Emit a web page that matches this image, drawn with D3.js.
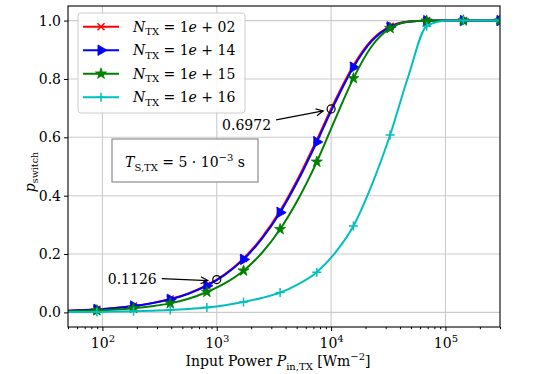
<!DOCTYPE html>
<html>
<head>
<meta charset="utf-8">
<script src="https://cdn.jsdelivr.net/npm/d3@7"></script>
<style>
  body { margin: 0; background: #fff; }
  svg { display: block; font-family: "DejaVu Serif", serif; }
</style>
</head>
<body>
<svg width="556" height="374"></svg>
<script>
// input power samples (W/m^2), markers on every other sample
var power = [42.8, 61.8, 89.5, 129.4, 187, 270, 392, 566, 819, 1183, 1714, 2477, 3581, 5176,
             7499, 10839, 15668, 22650, 32810, 47430, 68550, 99080, 143550, 207500, 300000];

var pN1e02 = [0.0051, 0.0074, 0.0106, 0.0153, 0.0221, 0.0318, 0.0458, 0.0654, 0.0932, 0.1318, 0.1852, 0.2562, 0.3482,
              0.4613, 0.5918, 0.7262, 0.8462, 0.9333, 0.9802, 0.9965, 0.9997, 1.0, 1.0, 1.0, 1.0];
var pN1e14 = [0.0050, 0.0072, 0.0104, 0.0150, 0.0216, 0.0311, 0.0448, 0.0641, 0.0914, 0.1293, 0.1817, 0.2516, 0.3423,
              0.4543, 0.5841, 0.7187, 0.8401, 0.9294, 0.9785, 0.9961, 0.9997, 1.0, 1.0, 1.0, 1.0];
var pN1e15 = [0.0031, 0.0046, 0.0068, 0.0099, 0.0145, 0.0212, 0.0310, 0.0467, 0.0700, 0.1004, 0.1430, 0.2035, 0.2850,
              0.3895, 0.5160, 0.6617, 0.8020, 0.9120, 0.9740, 0.9960, 0.9995, 1.0, 1.0, 1.0, 1.0];
var pN1e16 = [0.0009, 0.0013, 0.0018, 0.0027, 0.0039, 0.0056, 0.0081, 0.0118, 0.0170, 0.0248, 0.0360, 0.0496, 0.0680,
              0.0972, 0.1380, 0.2041, 0.2960, 0.4360, 0.6080, 0.8100, 0.9810, 0.9995, 1.0, 1.0, 1.0];

var seriesExp = ["02", "14", "15", "16"];
var xMajorTicks = [1e2, 1e3, 1e4, 1e5];
var xTickExp = ["2", "3", "4", "5"];
var yTicks = [0.0, 0.2, 0.4, 0.6, 0.8, 1.0];

// annotated points
var notePower = [1e3, 1e4];
var noteValue = [0.1126, 0.6972];

var series = [
    {values: pN1e02, color: "#ff0000", marker: "x"},
    {values: pN1e14, color: "#0000ff", marker: "tri"},
    {values: pN1e15, color: "#008000", marker: "star"},
    {values: pN1e16, color: "#00bfbf", marker: "plus"}
];

var svg = d3.select("svg"),
    margin = {top: 6, right: 56, bottom: 47, left: 68},
    width = 556 - margin.left - margin.right,
    height = 374 - margin.top - margin.bottom;

var x = d3.scaleLog().domain([50, 3e5]).range([margin.left, margin.left + width]);
var y = d3.scaleLinear().domain([-0.05, 1.05]).range([margin.top + height, margin.top]);

svg.append("defs").append("clipPath").attr("id", "clip")
    .append("rect")
    .attr("x", margin.left).attr("y", margin.top)
    .attr("width", width).attr("height", height);

// helper for mixed italic / sub / superscript text
function rich(sel, parts) {
    parts.forEach(function(p) {
        var t = sel.append("tspan").text(p.t);
        if (p.i) t.attr("font-style", "italic");
        if (p.sub) t.attr("font-size", p.fs || 10).attr("dy", p.sub);
        if (p.back) t.attr("dy", p.back);
    });
    return sel;
}

// grid
var grid = svg.append("g").attr("stroke", "#cbcbcb").attr("stroke-width", 1.1);
grid.selectAll(".gx").data(xMajorTicks).enter().append("line")
    .attr("x1", function(d) { return x(d); }).attr("x2", function(d) { return x(d); })
    .attr("y1", margin.top).attr("y2", margin.top + height);
grid.selectAll(".gy").data(yTicks).enter().append("line")
    .attr("y1", function(d) { return y(d); }).attr("y2", function(d) { return y(d); })
    .attr("x1", margin.left).attr("x2", margin.left + width);

// axes
var minor = x.ticks().filter(function(d) { return xMajorTicks.indexOf(d) < 0; });
svg.append("g")
    .attr("transform", "translate(0," + (margin.top + height) + ")")
    .call(d3.axisBottom(x).tickValues(minor).tickSize(2.2).tickFormat(""))
    .call(function(g) { g.select(".domain").remove(); });

var xAxis = svg.append("g")
    .attr("transform", "translate(0," + (margin.top + height) + ")")
    .call(d3.axisBottom(x).tickValues(xMajorTicks).tickSize(4).tickFormat(""));
xAxis.select(".domain").remove();
xAxis.selectAll(".tick").each(function(d, i) {
    var t = d3.select(this).append("text")
        .attr("y", 21).attr("fill", "#000").attr("font-size", 14)
        .attr("text-anchor", "middle").attr("font-family", "DejaVu Serif");
    rich(t, [{t: "10"}, {t: xTickExp[i], sub: -6, fs: 10}]);
});

var yAxis = svg.append("g")
    .attr("transform", "translate(" + margin.left + ",0)")
    .call(d3.axisLeft(y).tickValues(yTicks).tickSize(4).tickPadding(3).tickFormat(d3.format(".1f")));
yAxis.select(".domain").remove();
yAxis.selectAll("text").attr("font-size", 14).attr("font-family", "DejaVu Serif");
svg.selectAll(".tick line").attr("stroke", "#000").attr("stroke-width", 1);

// markers
function markerPath(type) {
    if (type === "x") return "M-3.5,-3.5L3.5,3.5M-3.5,3.5L3.5,-3.5";
    if (type === "plus") return "M-4.5,0L4.5,0M0,-4.5L0,4.5";
    if (type === "tri") return d3.symbol().type(d3.symbolTriangle).size(48)();
    return d3.symbol().type(d3.symbolStar).size(38)();
}
function drawMarker(g, type, color) {
    var p = g.append("path").attr("d", markerPath(type));
    if (type === "x" || type === "plus") {
        p.attr("fill", "none").attr("stroke", color).attr("stroke-width", 1.5);
    } else {
        p.attr("fill", color).attr("stroke", color).attr("stroke-width", 0.8);
    }
    if (type === "tri") p.attr("transform", "rotate(90)");
    return p;
}

var line = d3.line()
    .x(function(d, i) { return x(power[i]); })
    .y(function(d) { return y(d); })
    .curve(d3.curveMonotoneX);

var plot = svg.append("g").attr("clip-path", "url(#clip)");
series.forEach(function(s) {
    plot.append("path")
        .attr("d", line(s.values))
        .attr("fill", "none")
        .attr("stroke", s.color)
        .attr("stroke-width", 2);
    s.values.forEach(function(v, i) {
        if (i % 2 !== 0) return;
        var g = plot.append("g").attr("transform", "translate(" + x(power[i]) + "," + y(v) + ")");
        drawMarker(g, s.marker, s.color);
    });
});

// frame
svg.append("rect")
    .attr("x", margin.left).attr("y", margin.top)
    .attr("width", width).attr("height", height)
    .attr("fill", "none").attr("stroke", "#000").attr("stroke-width", 1.1);

// annotations
svg.append("defs").append("marker")
    .attr("id", "arrow").attr("viewBox", "-8 -5 10 10")
    .attr("markerWidth", 10).attr("markerHeight", 10)
    .attr("orient", "auto").attr("markerUnits", "userSpaceOnUse")
    .append("path").attr("d", "M-7,-3.5L0,0L-7,3.5")
    .attr("fill", "none").attr("stroke", "#000").attr("stroke-width", 1.2);

var noteOffsets = [
    {tx: -60, ty: 4, ax: -55, ay: -1, bx: -9, by: 1},
    {tx: -60, ty: 21, ax: -55, ay: 11, bx: -8, by: 2}
];
notePower.forEach(function(pw, i) {
    var px = x(pw), py = y(noteValue[i]), o = noteOffsets[i];
    svg.append("circle").attr("cx", px).attr("cy", py).attr("r", 4)
        .attr("fill", "none").attr("stroke", "#000").attr("stroke-width", 1.2);
    svg.append("line")
        .attr("x1", px + o.ax).attr("y1", py + o.ay)
        .attr("x2", px + o.bx).attr("y2", py + o.by)
        .attr("stroke", "#000").attr("stroke-width", 1.2)
        .attr("marker-end", "url(#arrow)");
    svg.append("text").attr("x", px + o.tx).attr("y", py + o.ty)
        .attr("text-anchor", "end").attr("font-size", 14)
        .text(d3.format(".4f")(noteValue[i]));
});

// parameter box
svg.append("rect").attr("x", 112).attr("y", 139).attr("width", 146).attr("height", 43)
    .attr("fill", "#fff").attr("stroke", "#8c8c8c").attr("stroke-width", 1.2);
rich(svg.append("text").attr("x", 185).attr("y", 167).attr("text-anchor", "middle").attr("font-size", 14),
    [{t: "T", i: true}, {t: "S,TX", sub: 3.5, fs: 10}, {t: " = 5 · 10", back: -3.5},
     {t: "−3", sub: -6, fs: 10}, {t: " s", back: 6}]);

// legend
var legend = svg.append("g");
legend.append("rect").attr("x", 78).attr("y", 13).attr("width", 167).attr("height", 100).attr("rx", 3)
    .attr("fill", "#fff").attr("fill-opacity", 0.85).attr("stroke", "#cccccc").attr("stroke-width", 1);
series.forEach(function(s, i) {
    var ly = 26.7 + i * 23.5;
    legend.append("line").attr("x1", 83).attr("x2", 119).attr("y1", ly).attr("y2", ly)
        .attr("stroke", s.color).attr("stroke-width", 2);
    drawMarker(legend.append("g").attr("transform", "translate(101," + ly + ")"), s.marker, s.color);
    rich(legend.append("text").attr("x", 133).attr("y", ly + 5).attr("font-size", 14),
        [{t: "N", i: true}, {t: "TX", sub: 3.5, fs: 10}, {t: " = 1", back: -3.5},
         {t: "e", i: true}, {t: " + " + seriesExp[i]}]);
});

// axis labels
rich(svg.append("text").attr("x", 278).attr("y", 366).attr("text-anchor", "middle").attr("font-size", 14),
    [{t: "Input Power "}, {t: "P", i: true}, {t: "in,TX", sub: 3.5, fs: 10},
     {t: " [Wm", back: -3.5}, {t: "−2", sub: -6, fs: 10}, {t: "]", back: 6}]);
rich(svg.append("text").attr("transform", "translate(35,172) rotate(-90)")
    .attr("text-anchor", "middle").attr("font-size", 14),
    [{t: "p", i: true}, {t: "switch", sub: 3, fs: 9.5}]);
</script>
</body>
</html>
